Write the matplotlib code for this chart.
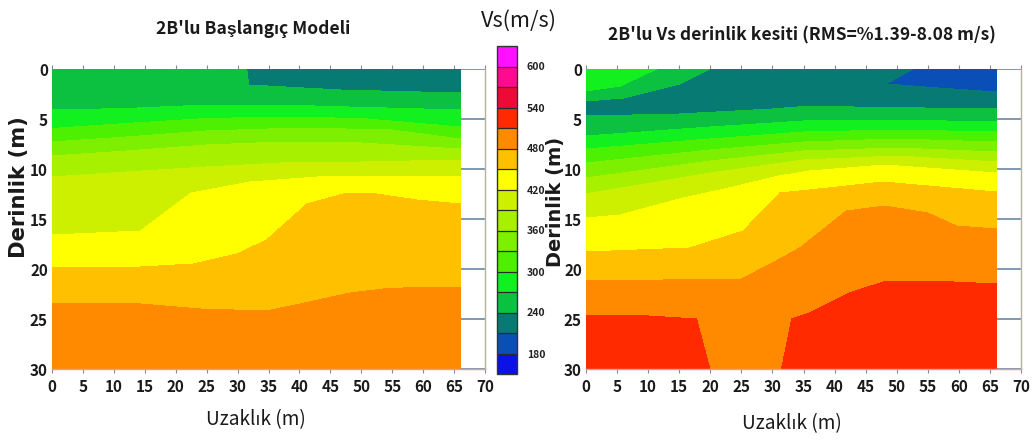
import numpy as np
import matplotlib
matplotlib.use("Agg")
import matplotlib.pyplot as plt
from matplotlib import font_manager as fm

# ---------------- data: velocity bands (m/s) ----------------
levels = list(range(150, 631, 30))
band_colors = ['#0b12e6', '#0a4fb5', '#087a74', '#0cc040', '#12f020', '#4cf000',
               '#7cf000', '#a6f000', '#ccf000', '#ffff00', '#ffc000', '#ff8a00',
               '#ff2a00', '#ee0a36', '#ff0a90', '#ff10ff']
cbar_ticks = [180, 240, 300, 360, 420, 480, 540, 600]
x_ticks = list(range(0, 71, 5))
z_ticks = list(range(0, 31, 5))
model_width = 66.0
model_depth = 30.0

# Iso-velocity lines: (distance m, depth m)
# sign +1: velocity increases downward across the line, -1: decreases
# ---- left panel: 2B'lu Başlangıç Modeli ----
L240_x = [31.5, 31.8, 46.6, 66];            L240_z = [0, 1.6, 2.1, 2.4]
L270_x = [0, 12, 25, 37, 48, 66];           L270_z = [4.1, 3.95, 3.6, 3.6, 3.8, 4.1]
L300_x = [0, 12, 25, 37, 50, 66];           L300_z = [5.95, 5.45, 4.95, 4.8, 4.95, 5.8]
L330_x = [0, 12, 25, 40, 55, 66];           L330_z = [7.3, 6.8, 6.2, 5.9, 6.1, 7.0]
L360_x = [0, 12, 25, 37, 50, 66];           L360_z = [8.7, 8.2, 7.6, 7.3, 7.4, 8.0]
L390_x = [0, 12, 25, 37, 50, 66];           L390_z = [10.8, 10.3, 9.8, 9.4, 9.3, 9.1]
L420_x = [0, 14.3, 22.5, 32, 43, 66];       L420_z = [16.6, 16.2, 12.4, 11.3, 10.8, 10.7]
L450_x = [0, 14.3, 22.9, 29.9, 34.7, 41.2, 47.7, 52.5, 59, 66]
L450_z = [19.8, 19.8, 19.5, 18.5, 17.1, 13.5, 12.4, 12.5, 13.1, 13.5]
L480_x = [0, 14.3, 24, 34.7, 40.1, 48.2, 53.6, 60, 66]
L480_z = [23.4, 23.5, 24.0, 24.2, 23.5, 22.4, 22.0, 21.8, 21.8]

# ---- right panel: 2B'lu Vs derinlik kesiti ----
R270a_x = [0, 5.5, 10.3, 11.4];            R270a_z = [2.2, 1.7, 0.3, 0]
R240a_x = [0, 6, 15.1, 19.9];              R240a_z = [3.2, 2.9, 1.5, 0]
R210a_x = [48.3, 52.6];                    R210a_z = [1.5, 0]
R210b_x = [48.3, 55.4, 66];                R210b_z = [1.5, 1.84, 2.3]
R240b_x = [0, 15, 30, 36, 43, 66];         R240b_z = [4.7, 4.5, 4.0, 3.7, 3.8, 4.0]
R_mid_x = [0, 20, 35, 50, 66]
R270b_z = [6.7, 5.8, 5.2, 5.1, 5.3]
R300_z = [8.0, 7.0, 6.3, 6.1, 6.3]
R330_z = [9.4, 8.1, 7.3, 7.0, 7.3]
R360_z = [10.9, 9.2, 8.2, 7.9, 8.3]
R390_z = [12.5, 10.4, 9.1, 8.7, 9.3]
R420_x = [0, 5.5, 15, 23, 31, 36, 48, 66];  R420_z = [14.9, 14.6, 13.0, 11.9, 10.7, 10.2, 9.6, 10.4]
R450_x = [0, 16.7, 25.3, 31.2, 36, 47.8, 66]; R450_z = [18.3, 17.9, 16.2, 12.4, 12.1, 11.3, 12.3]
R480_x = [0, 25, 30, 34.4, 41.9, 48.1, 55, 59.6, 66]
R480_z = [21.2, 21.0, 19.4, 17.9, 14.2, 13.7, 14.4, 15.7, 16.0]
R510a_x = [0, 10, 17.8, 19.9];             R510a_z = [24.6, 24.7, 25.0, 30]
R510b_x = [31.5, 33.1, 36, 42.4, 47.8, 55.8, 66]
R510b_z = [30, 25.0, 24.4, 22.4, 21.3, 21.2, 21.5]

left_lines = [(240, +1, L240_x, L240_z), (270, +1, L270_x, L270_z),
              (300, +1, L300_x, L300_z), (330, +1, L330_x, L330_z),
              (360, +1, L360_x, L360_z), (390, +1, L390_x, L390_z),
              (420, +1, L420_x, L420_z), (450, +1, L450_x, L450_z),
              (480, +1, L480_x, L480_z)]
right_lines = [(270, -1, R270a_x, R270a_z), (240, -1, R240a_x, R240a_z),
               (210, -1, R210a_x, R210a_z), (210, +1, R210b_x, R210b_z),
               (240, +1, R240b_x, R240b_z), (270, +1, R_mid_x, R270b_z),
               (300, +1, R_mid_x, R300_z), (330, +1, R_mid_x, R330_z),
               (360, +1, R_mid_x, R360_z), (390, +1, R_mid_x, R390_z),
               (420, +1, R420_x, R420_z), (450, +1, R450_x, R450_z),
               (480, +1, R480_x, R480_z), (510, +1, R510a_x, R510a_z),
               (510, +1, R510b_x, R510b_z)]


def build_field(lines, xs, zs):
    V = np.empty((len(zs), len(xs)))
    for j, x in enumerate(xs):
        knots = []
        for lev, sgn, bx, bz in lines:
            if bx[0] <= x <= bx[-1]:
                knots.append((float(np.interp(x, bx, bz)), lev, sgn))
        knots.sort(key=lambda k: k[0])
        d, v = [], []
        z0, l0, s0 = knots[0]
        if z0 > 0:
            d.append(0.0); v.append(l0 - 15 * s0)
        prev = None
        for z, lev, sgn in knots:
            if prev is not None and prev[1] == lev:
                d.append((prev[0] + z) / 2); v.append(lev + 15 * prev[2])
            d.append(z); v.append(lev)
            prev = (z, lev, sgn)
        if prev[0] < model_depth:
            d.append(model_depth); v.append(prev[1] + 15 * prev[2])
        V[:, j] = np.interp(zs, d, v)
    return V


xs = np.linspace(0, model_width, 661)
zs = np.linspace(0, model_depth, 601)
VL = build_field(left_lines, xs, zs)
VR = build_field(right_lines, xs, zs)

# ---------------- fonts ----------------
FP_REG = fm.FontProperties(family=['Noto Sans CJK SC', 'Liberation Sans'], weight='normal')
FP_BOLD = fm.FontProperties(family=['Noto Sans CJK SC', 'Liberation Sans'], weight='bold')
FP_YLAB = fm.FontProperties(family='DejaVu Sans', weight='bold')

W, H = 1034, 443
fig = plt.figure(figsize=(W / 100, H / 100), dpi=100)
renderer = fig.canvas.get_renderer()


def size_for(fp, text, target, vertical=False):
    t = fig.text(0, 0, text, fontproperties=fp, fontsize=20,
                 rotation=90 if vertical else 0)
    bb = t.get_window_extent(renderer)
    t.remove()
    w = bb.height if vertical else bb.width
    return 20 * target / w


axL = fig.add_axes([52 / W, 1 - 369 / H, 433 / W, 300 / H])
axR = fig.add_axes([586 / W, 1 - 369 / H, 435 / W, 300 / H])
cax = fig.add_axes([497 / W, 1 - 374 / H, 20 / W, 328 / H])

tick_size = size_for(FP_BOLD, '30', 18)
cb_size = size_for(FP_BOLD, '600', 18.5)

cs = None
for ax, V in ((axL, VL), (axR, VR)):
    cs = ax.contourf(xs, zs, V, levels=levels, colors=band_colors, zorder=2)
    ax.set_xlim(0, 70)
    ax.set_ylim(30, 0)
    ax.set_xticks(x_ticks)
    ax.set_yticks(z_ticks)
    ax.set_xticklabels([str(t) for t in x_ticks], fontproperties=FP_BOLD,
                       fontsize=tick_size, color='#1a1a1a')
    ax.set_yticklabels([str(t) for t in z_ticks], fontproperties=FP_BOLD,
                       fontsize=tick_size, color='#1a1a1a')
    ax.set_axisbelow(True)
    ax.grid(axis='y', color='#7f98b2', lw=1.4)
    for s in ('right', 'bottom'):
        ax.spines[s].set_color('#d9a0a0')
        ax.spines[s].set_linewidth(1.0)
    ax.spines['top'].set_visible(False)
    ax.spines['left'].set_visible(False)
    ax.tick_params(axis='x', top=True, bottom=True, direction='out', length=3,
                   color='#8a8a8a', width=0.8, pad=4)
    ax.tick_params(axis='y', left=False, length=0, pad=3)

cb = fig.colorbar(cs, cax=cax, drawedges=True)
cb.set_ticks(cbar_ticks)
cb.set_ticklabels([str(t) for t in cbar_ticks])
cb.ax.tick_params(length=0, pad=7)
for lab in cb.ax.get_yticklabels():
    lab.set_fontproperties(FP_BOLD)
    lab.set_fontsize(cb_size)
    lab.set_color('#222222')
cb.outline.set_edgecolor('#333333')
cb.outline.set_linewidth(1.0)
cb.dividers.set_color('#2a2a2a')
cb.dividers.set_linewidth(0.9)

title_L = "2B'lu Başlangıç Modeli"
title_R = "2B'lu Vs derinlik kesiti (RMS=%1.39-8.08 m/s)"
fig.text(253 / W, 1 - 29 / H, title_L, ha='center', va='center', fontproperties=FP_BOLD,
         fontsize=size_for(FP_BOLD, title_L, 194), color='#1a1a1a')
fig.text(802 / W, 1 - 35 / H, title_R, ha='center', va='center', fontproperties=FP_BOLD,
         fontsize=size_for(FP_BOLD, title_R, 388), color='#1a1a1a')
fig.text(519 / W, 1 - 21 / H, "Vs(m/s)", ha='center', va='center', fontproperties=FP_REG,
         fontsize=size_for(FP_REG, "Vs(m/s)", 76), color='#1a1a1a')
ylab_size = size_for(FP_YLAB, "Derinlik (m)", 142, vertical=True)
fig.text(19 / W, 1 - 187 / H, "Derinlik (m)", rotation=90, ha='center', va='center',
         fontproperties=FP_YLAB, fontsize=ylab_size, color='#1a1a1a')
ylab_size_r = size_for(FP_YLAB, "Derinlik (m)", 130, vertical=True)
fig.text(556 / W, 1 - 202 / H, "Derinlik (m)", rotation=90, ha='center', va='center',
         fontproperties=FP_YLAB, fontsize=ylab_size_r, color='#1a1a1a')
xlab_size = size_for(FP_REG, "Uzaklık (m)", 100)
fig.text(256 / W, 1 - 420 / H, "Uzaklık (m)", ha='center', va='center', fontproperties=FP_REG,
         fontsize=xlab_size, color='#1a1a1a')
fig.text(792 / W, 1 - 424 / H, "Uzaklık (m)", ha='center', va='center', fontproperties=FP_REG,
         fontsize=xlab_size, color='#1a1a1a')

fig.savefig('out.png', dpi=100, facecolor='white')
